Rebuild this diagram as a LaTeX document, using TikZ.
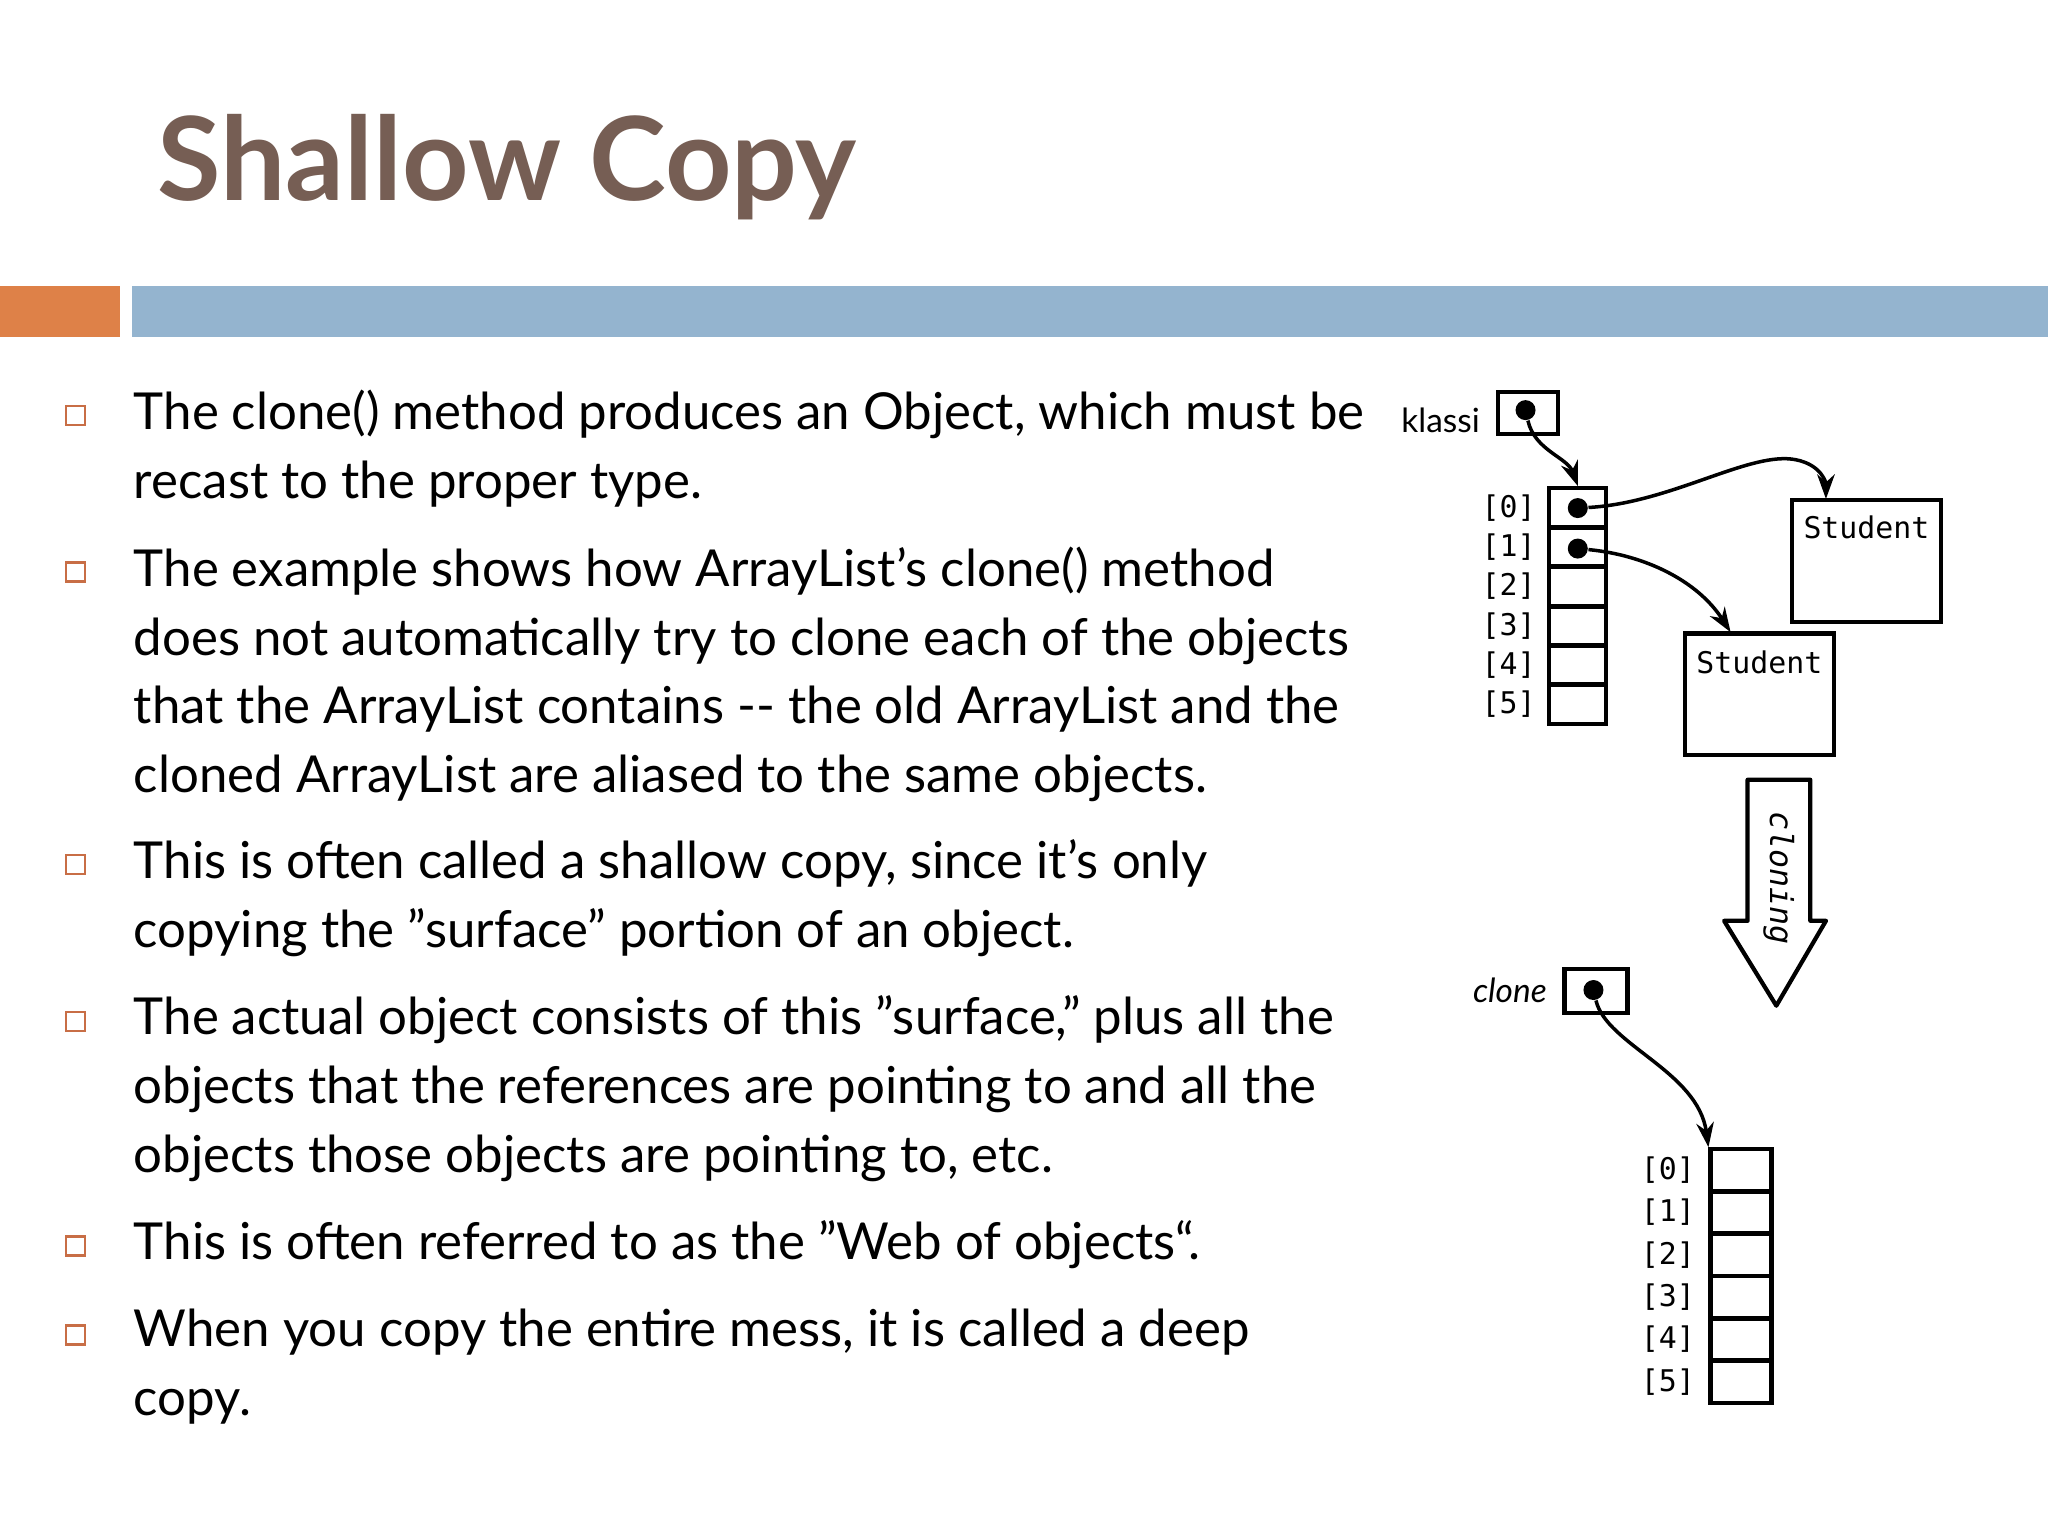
\documentclass[tikz,border=0pt]{standalone}
\usepackage{fontspec}
\setmainfont{Lato}
\newfontfamily\handfont{DejaVu Sans Mono}
\usetikzlibrary{arrows.meta}
\definecolor{titlec}{RGB}{118,94,84}
\definecolor{orangec}{RGB}{222,129,72}
\definecolor{bluec}{RGB}{148,180,207}
\definecolor{bulc}{RGB}{200,110,70}
\newcommand{\qq}{\symbol{34}}
\begin{document}
\begin{tikzpicture}[x=0.01306cm,y=-0.01306cm,
  bul/.style={draw=bulc,line width=0.7pt,minimum size=0.19cm,inner sep=0pt},
  txt/.style={anchor=north west,align=left,inner sep=0pt,font=\fontsize{14.5pt}{19.6pt}\selectfont},
  cell/.style={draw,line width=1.2pt,minimum width=0.57cm,minimum height=0.4cm,inner sep=0pt},
  cell2/.style={draw,line width=1.2pt,minimum width=0.61cm,minimum height=0.42cm,inner sep=0pt},
  lab/.style={font=\handfont\fontsize{8.5pt}{9pt}\selectfont,inner sep=0pt},
  slab/.style={font=\handfont\fontsize{8.5pt}{9pt}\selectfont,inner sep=0pt},
  dot/.style={circle,fill,inner sep=0pt,minimum size=0.2cm},
  arr/.style={-{Stealth[length=7pt,width=5pt]},line width=1pt}]
\fill[white] (0,0) rectangle (1568,1176);
\useasboundingbox (0,0) rectangle (1568,1176);
\node[anchor=west,inner sep=0pt,text=titlec,font=\bfseries\fontsize{33pt}{36pt}\selectfont] (title) at (120,128) {Shallow Copy};
\fill[orangec] (0,219) rectangle (92,258);
\fill[bluec] (101,219) rectangle (1568,258);
% bullets
\foreach \y/\n in {318/b1,438/b2,662/b3,782/b4,954/b5,1022/b6} \node[bul] (\n) at (58,\y) {};
\node[txt] (t1) at (102,298) {The clone() method produces an Object, which must be\\recast to the proper type.};
\node[txt] (t2) at (102,418) {The example shows how ArrayList's clone() method\\does not automatically try to clone each of the objects\\that the ArrayList contains -{}- the old ArrayList and the\\cloned ArrayList are aliased to the same objects.};
\node[txt] (t3) at (102,642) {This is often called a shallow copy, since it's only\\copying the \qq surface\qq{} portion of an object.};
\node[txt] (t4) at (102,762) {The actual object consists of this \qq surface,\qq{} plus all the\\objects that the references are pointing to and all the\\objects those objects are pointing to, etc.};
\node[txt] (t5) at (102,934) {This is often referred to as the \qq Web of objects``.};
\node[txt] (t6) at (102,1002) {When you copy the entire mess, it is called a deep\\copy.};
% diagram top
\node[inner sep=0pt,font=\fontsize{9.5pt}{10pt}\selectfont] (klassi) at (1103,322) {klassi};
\node[cell,minimum width=0.6cm,minimum height=0.42cm] (kbox) at (1170,316) {};
\node[dot] (kdot) at (1168,314) {};
\foreach \i in {0,...,5}{
  \node[cell] (a\i) at (1208,389+30*\i) {};
  \node[lab] (la\i) at (1155,389+30*\i) {[\i]};
}
\node[dot] (d0) at (1208,389) {};
\node[dot] (d1) at (1208,420) {};
\draw[line width=1.2pt] (1372,383) rectangle (1486,476);
\node[slab] (s1) at (1429,404) {Student};
\draw[line width=1.2pt] (1290,485) rectangle (1404,578);
\node[slab] (s2) at (1347,507) {Student};
\coordinate (s1top) at (1398,382);
\coordinate (s2top) at (1325,484);
\draw[arr] (kdot) .. controls (1175,345) and (1200,350) .. (a0.north);
\draw[arr] (d0) .. controls (1280,385) and (1340,345) .. (1375,352) .. controls (1395,356) and (1398,370) .. (s1top);
\draw[arr] (d1) .. controls (1260,425) and (1300,445) .. (s2top);
% cloning arrow
\draw[line width=1.2pt,line join=round] (1338,597) -- (1386,597) -- (1386,705) -- (1398,705) -- (1360,770) -- (1320,705) -- (1338,705) -- cycle;
\node[rotate=-90,inner sep=0pt,font=\handfont\itshape\fontsize{9pt}{9pt}\selectfont] (cl) at (1362,672) {cloning};
% bottom
\node[inner sep=0pt,font=\itshape\fontsize{9.5pt}{10pt}\selectfont] (clone) at (1156,758) {clone};
\node[cell,minimum width=0.63cm,minimum height=0.44cm] (cbox) at (1222,759) {};
\node[dot] (cdot) at (1220,758) {};
\foreach \i in {0,...,5}{
  \node[cell2] (b\i) at (1333,896+32.4*\i) {};
  \node[lab] (lb\i) at (1277,896+32.4*\i) {[\i]};
}
\draw[arr] (cdot) .. controls (1230,800) and (1300,820) .. (b0.north west);
\end{tikzpicture}
\end{document}
